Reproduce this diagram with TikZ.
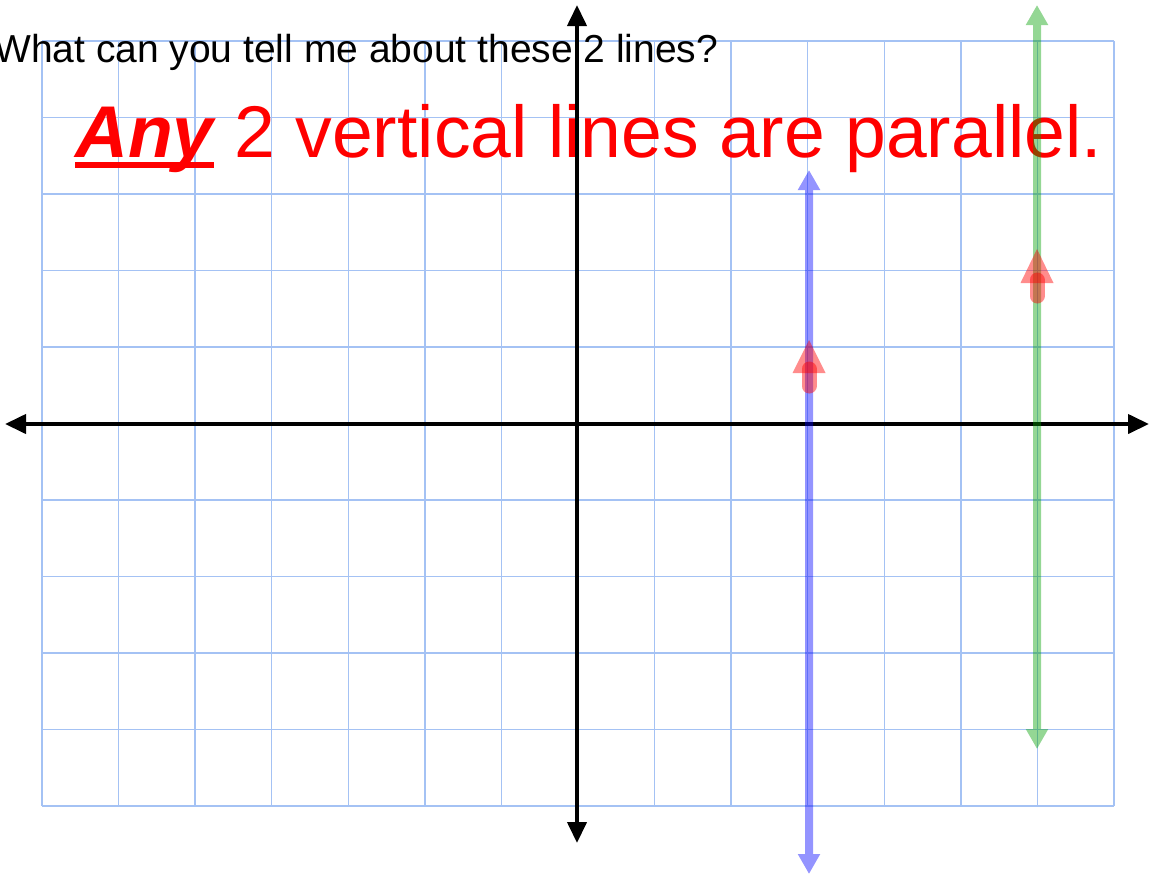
\documentclass[tikz,border=0pt]{standalone}
\usepackage{fontspec}
\setmainfont{Liberation Sans}
\usetikzlibrary{arrows.meta}
\definecolor{gridblue}{RGB}{164,194,244}
\definecolor{lineblue}{RGB}{0,0,255}
\definecolor{linegreen}{RGB}{0,160,0}
\tikzset{
  gridline/.style={draw=gridblue, line width=1.5pt},
  axis/.style={draw=black, line width=4pt, {Triangle[length=21pt,width=19pt]}-{Triangle[length=21pt,width=19pt]}},
  vline/.style={line width=8pt, {Triangle[length=20pt,width=21pt]}-{Triangle[length=20pt,width=21pt]}},
  redshaft/.style={draw=red, line width=15pt, draw opacity=0.45, line cap=round},
  redhead/.style={fill=red, fill opacity=0.45},
  blacktext/.style={inner sep=0pt, font=\fontsize{39}{45}\selectfont, text=black},
  redtext/.style={inner sep=0pt, font=\fontsize{73.3}{84}\selectfont, text=red}
}
\begin{document}
\begin{tikzpicture}[x=1pt,y=-1pt]
\useasboundingbox (0,0) rectangle (1150,876);
\fill[white] (0,0) rectangle (1150,876);
% grid
\foreach \i in {0,...,14} {
  \draw[gridline] ({42+\i*76.571},41) -- ({42+\i*76.571},806);
}
\foreach \j in {0,...,10} {
  \draw[gridline] (42,{41+\j*76.5}) -- (1114,{41+\j*76.5});
}
% texts
\node[blacktext, anchor=base west] (question) at (-6,62) {What can you tell me about these 2 lines?};
\node[redtext, anchor=base west] (any) at (75,157) {\bfseries\itshape Any};
\node[redtext, anchor=base west] (rest) at ([xshift=20.4pt]any.base east) {2 vertical lines are parallel.};
\fill[red] ([yshift=-5pt]any.base west) rectangle ([yshift=-11pt]any.base east);
% axes
\coordinate (xl) at (5,424);
\coordinate (xr) at (1149,424);
\coordinate (yt) at (577,5);
\coordinate (yb) at (577,843);
\draw[axis] (xl) -- (xr);
\draw[axis] (yb) -- (yt);
% vertical lines
\coordinate (bt) at (809,170);
\coordinate (bb) at (809,874);
\coordinate (gt) at (1037,5);
\coordinate (gb) at (1037,749);
\begin{scope}[transparency group, opacity=0.42]
\draw[vline, draw=lineblue, fill=lineblue] (bb) -- (bt);
\end{scope}
\begin{scope}[transparency group, opacity=0.42]
\draw[vline, draw=linegreen, fill=linegreen] (gb) -- (gt);
\end{scope}
% red arrows
\coordinate (r1s) at (809,386);
\coordinate (r1m) at (809,369);
\coordinate (r1e) at (809,340);
\coordinate (r2s) at (1037,296);
\coordinate (r2m) at (1037,280);
\coordinate (r2e) at (1037,249);
\draw[redshaft] (r1s) -- (r1m);
\fill[redhead] (r1e) -- ([xshift=-16.5pt,yshift=-33pt]r1e) -- ([xshift=16.5pt,yshift=-33pt]r1e) -- cycle;
\draw[redshaft] (r2s) -- (r2m);
\fill[redhead] (r2e) -- ([xshift=-16.5pt,yshift=-34pt]r2e) -- ([xshift=16.5pt,yshift=-34pt]r2e) -- cycle;
\end{tikzpicture}
\end{document}
